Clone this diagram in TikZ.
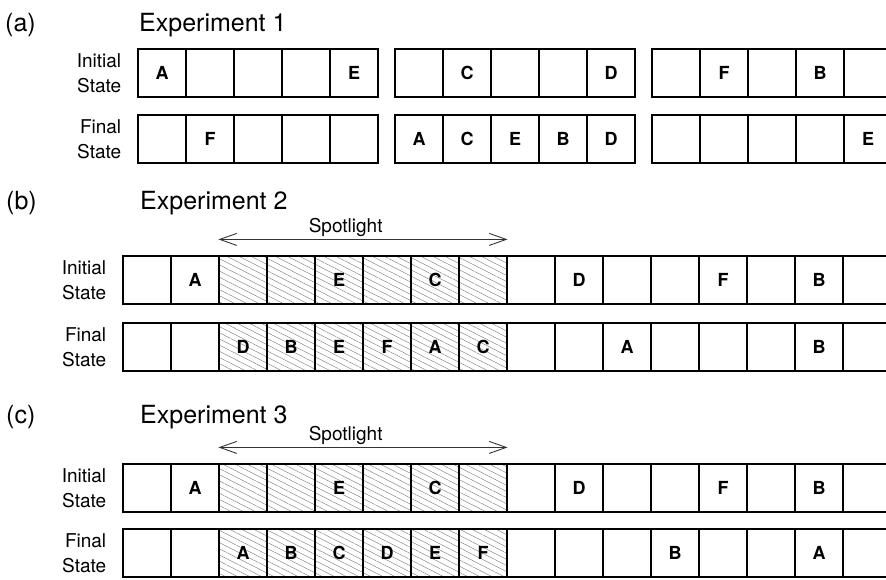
\documentclass[tikz,border=0pt]{standalone}
\usepackage{fontspec}
\setmainfont{TeX Gyre Heros}
\usetikzlibrary{arrows.meta,patterns.meta,positioning,backgrounds}
\tikzset{cell/.style={draw, rectangle, minimum width=48pt, minimum height=48pt,
  inner sep=0pt, line width=1.2pt, font=\fontsize{18}{18}\selectfont\bfseries},
  spot/.style={pattern={Lines[angle=-27, distance=5.5pt, line width=0.45pt]},
  pattern color=black!50},
  rowlbl/.style={align=right, inner sep=0pt, font=\fontsize{19}{25}\selectfont},
  ttl/.style={anchor=base west, inner sep=0pt, font=\fontsize{25}{25}\selectfont}}

\begin{document}
\begin{tikzpicture}[x=1pt, y=-1pt, >={Straight Barb[length=17pt, width=12pt]}]
  \useasboundingbox (0,0) rectangle (886,579);
  \clip (0,0) rectangle (886,579);

  % (a)
  \node[ttl] (ta) at (5, 31)   {(a)};
  \node[ttl] (ea) at (139, 31) {Experiment 1};
  \foreach \t [count=\i] in {A,{},{},{},E,{},C,{},{},D,{},F,{},B,{}}
    \node[cell] (ai\i) at ({162+48*mod(\i-1,5)+257*int((\i-1)/5)}, 73) {\t};
  \foreach \t [count=\i] in {{},F,{},{},{},A,C,E,B,D,{},{},{},{},E}
    \node[cell] (af\i) at ({162+48*mod(\i-1,5)+257*int((\i-1)/5)}, 139) {\t};
  \node[rowlbl, left=16pt of ai1] (lai) {Initial\\State};
  \node[rowlbl, left=16pt of af1] (laf) {Final\\State};

  % (b)
  \node[ttl] (tb) at (6, 209)   {(b)};
  \node[ttl] (eb) at (140, 209) {Experiment 2};
  \foreach \t [count=\i] in {{},A,{},{},E,{},C,{},{},D,{},{},F,{},B,{}}
    \node[cell] (bi\i) at (99+48*\i, 280) {\t};
  \foreach \t [count=\i] in {{},{},D,B,E,F,A,C,{},{},A,{},{},{},B,{}}
    \node[cell] (bf\i) at (99+48*\i, 347) {\t};
  \node[rowlbl, left=16pt of bi1] (lbi) {Initial\\State};
  \node[rowlbl, left=16pt of bf1] (lbf) {Final\\State};
  \coordinate (bsl) at ([yshift=16pt]bi3.north west);
  \coordinate (bsr) at ([yshift=16pt]bi8.north east);
  \draw[<->, line width=0.9pt, black!80] (bsl) -- node[pos=0.44, anchor=base,
    yshift=7pt, inner sep=0pt, black, font=\fontsize{19}{19}\selectfont] (sb)
    {Spotlight} (bsr);

  % (c)
  \node[ttl] (tc) at (6, 423)   {(c)};
  \node[ttl] (ec) at (140, 423) {Experiment 3};
  \foreach \t [count=\i] in {{},A,{},{},E,{},C,{},{},D,{},{},F,{},B,{}}
    \node[cell] (ci\i) at (99+48*\i, 488) {\t};
  \foreach \t [count=\i] in {{},{},A,B,C,D,E,F,{},{},{},B,{},{},A,{}}
    \node[cell] (cf\i) at (99+48*\i, 553) {\t};
  \node[rowlbl, left=16pt of ci1] (lci) {Initial\\State};
  \node[rowlbl, left=16pt of cf1] (lcf) {Final\\State};
  \coordinate (csl) at ([yshift=16pt]ci3.north west);
  \coordinate (csr) at ([yshift=16pt]ci8.north east);
  \draw[<->, line width=0.9pt, black!80] (csl) -- node[pos=0.44, anchor=base,
    yshift=7pt, inner sep=0pt, black, font=\fontsize{19}{19}\selectfont] (sc)
    {Spotlight} (csr);

  \begin{scope}[on background layer]
    \fill[spot] (bi3.north west) rectangle (bi8.south east);
    \fill[spot] (bf3.north west) rectangle (bf8.south east);
    \fill[spot] (ci3.north west) rectangle (ci8.south east);
    \fill[spot] (cf3.north west) rectangle (cf8.south east);
  \end{scope}
\end{tikzpicture}
\end{document}
